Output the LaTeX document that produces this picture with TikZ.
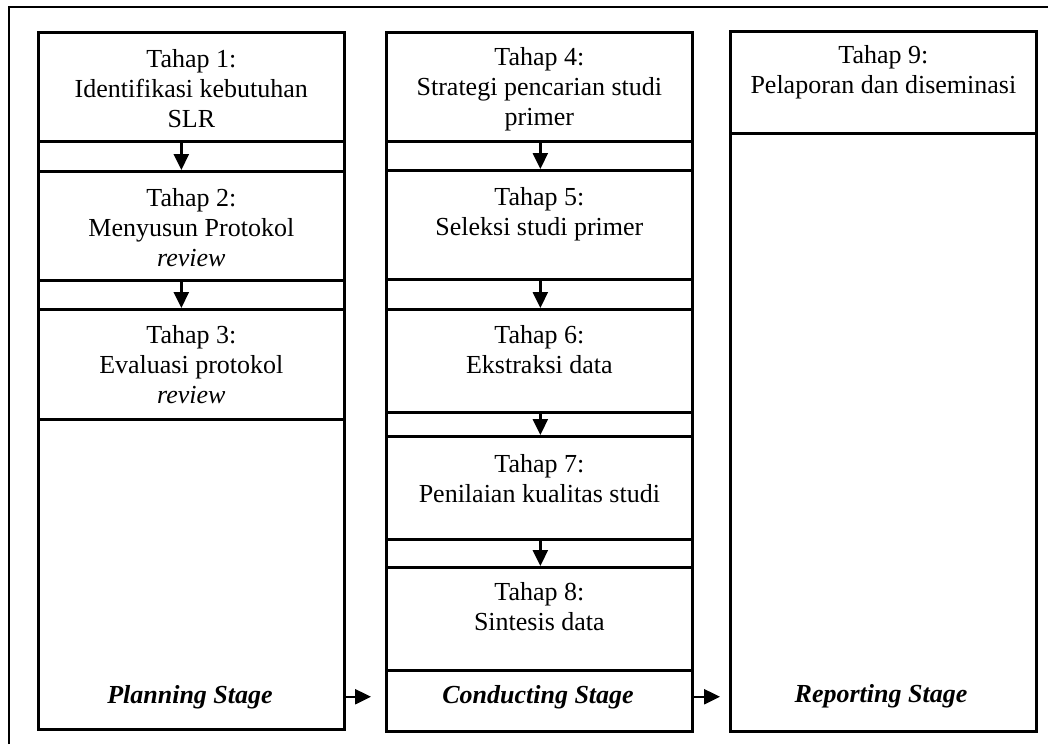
\documentclass[tikz,border=0pt]{standalone}
\usepackage{fontspec}
\setmainfont{Liberation Serif}
\usetikzlibrary{arrows.meta}
\begin{document}
\begin{tikzpicture}[x=1pt,y=-1pt,
  frame/.style={line width=2.8pt},
  colbox/.style={draw, line width=2.7pt, rectangle, anchor=north west, inner sep=0pt, minimum width=306pt},
  stepbox/.style={draw, line width=2.7pt, rectangle, anchor=north west, inner sep=0pt, minimum width=306pt},
  txt/.style={inner sep=0pt, align=center, font=\fontsize{26}{30}\selectfont, anchor=north},
  stagetxt/.style={inner sep=0pt, font=\fontsize{26}{30}\selectfont\bfseries\itshape, anchor=base},
  arr/.style={line width=2.5pt, -{Triangle[length=16pt,width=15pt]}}
]
\useasboundingbox (0,0) rectangle (1048,744);
% outer frame (cut by the page on right and bottom)
\draw[frame] (9,744) -- (9,7) -- (1048,7);

% columns
\node[colbox, minimum height=697pt] (col1) at (37,31) {};
\node[colbox, minimum height=699pt] (col2) at (385,31) {};
\node[colbox, minimum height=700pt] (col3) at (729,30) {};

% step boxes
\node[stepbox, minimum height=109pt] (b1) at (37,31) {};
\node[stepbox, minimum height=109pt] (b2) at (37,170) {};
\node[stepbox, minimum height=110pt] (b3) at (37,308) {};
\node[stepbox, minimum height=109pt] (b4) at (385,31) {};
\node[stepbox, minimum height=109pt] (b5) at (385,169) {};
\node[stepbox, minimum height=103pt] (b6) at (385,308) {};
\node[stepbox, minimum height=103pt] (b7) at (385,435) {};
\node[stepbox, minimum height=103pt] (b8) at (385,566) {};
\node[stepbox, minimum height=102pt] (b9) at (729,30) {};

% texts
\node[txt] (t1) at ([yshift=-18pt]b1.north) {Tahap 1:\\Identifikasi kebutuhan\\SLR};
\node[txt] (t2) at ([yshift=-18pt]b2.north) {Tahap 2:\\Menyusun Protokol\\\textit{review}};
\node[txt] (t3) at ([yshift=-17pt]b3.north) {Tahap 3:\\Evaluasi protokol\\\textit{review}};
\node[txt] (t4) at ([yshift=-16pt]b4.north) {Tahap 4:\\Strategi pencarian studi\\primer};
\node[txt] (t5) at ([yshift=-18pt]b5.north) {Tahap 5:\\Seleksi studi primer};
\node[txt] (t6) at ([yshift=-17pt]b6.north) {Tahap 6:\\Ekstraksi data};
\node[txt] (t7) at ([yshift=-19pt]b7.north) {Tahap 7:\\Penilaian kualitas studi};
\node[txt] (t8) at ([yshift=-16pt]b8.north) {Tahap 8:\\Sintesis data};
\node[txt] (t9) at ([yshift=-15pt]b9.north) {Tahap 9:\\Pelaporan dan diseminasi};

% stage labels
\node[stagetxt] (st1) at (190,703) {Planning Stage};
\node[stagetxt] (st2) at (538,703) {Conducting Stage};
\node[stagetxt] (st3) at (881,702) {Reporting Stage};

% vertical arrows
\draw[arr] ([xshift=-10pt]b1.south) -- ([xshift=-10pt]b2.north);
\draw[arr] ([xshift=-10pt]b2.south) -- ([xshift=-10pt]b3.north);
\draw[arr] ([xshift=1pt]b4.south) -- ([xshift=1pt]b5.north);
\draw[arr] ([xshift=1pt]b5.south) -- ([xshift=1pt]b6.north);
\draw[arr] ([xshift=1pt]b6.south) -- ([xshift=1pt]b7.north);
\draw[arr] ([xshift=1pt]b7.south) -- ([xshift=1pt]b8.north);

% horizontal arrows between stages
\draw[arr] (col1.east |- st1) -- ([xshift=-14pt]col2.west |- st1);
\draw[arr] (col2.east |- st2) -- ([xshift=-9pt]col3.west |- st2);
\end{tikzpicture}
\end{document}
